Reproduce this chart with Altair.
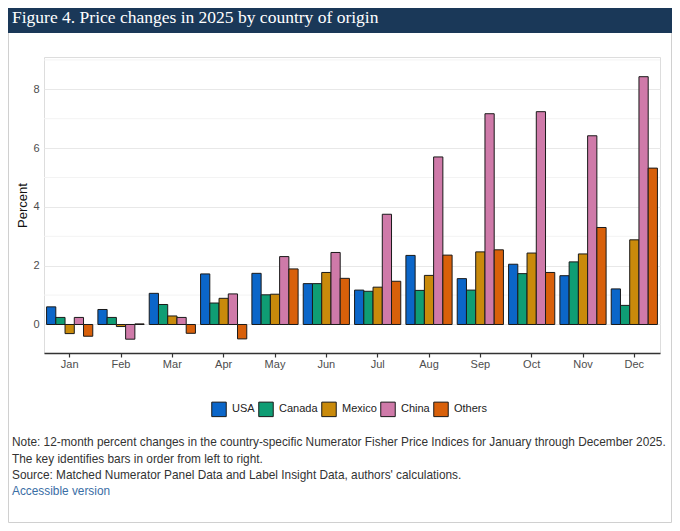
import altair as alt
import pandas as pd

months = ["Jan", "Feb", "Mar", "Apr", "May", "Jun", "Jul", "Aug", "Sep", "Oct", "Nov", "Dec"]
countries = ["USA", "Canada", "Mexico", "China", "Others"]
colors = ["#0b66c9", "#0f9d74", "#c98a0b", "#cf7aa9", "#d8600a"]

usa    = [0.60, 0.51, 1.06, 1.72, 1.74, 1.39, 1.17, 2.35, 1.56, 2.05, 1.66, 1.21]
canada = [0.24, 0.24, 0.68, 0.73, 1.01, 1.39, 1.13, 1.16, 1.17, 1.73, 2.13, 0.65]
mexico = [-0.31, -0.07, 0.29, 0.89, 1.03, 1.77, 1.27, 1.67, 2.47, 2.43, 2.40, 2.88]
china  = [0.24, -0.50, 0.24, 1.04, 2.31, 2.45, 3.75, 5.70, 7.17, 7.24, 6.42, 8.43]
others = [-0.40, 0.02, -0.30, -0.49, 1.89, 1.57, 1.47, 2.36, 2.54, 1.77, 3.30, 5.32]

major_ticks = [0, 2, 4, 6, 8]
minor_ticks = [1, 3, 5, 7, 9]

title_text = "Figure 4. Price changes in 2025 by country of origin"
note_lines = [
    "Note: 12-month percent changes in the country-specific Numerator Fisher Price Indices for January through December 2025.",
    "The key identifies bars in order from left to right.",
    "Source: Matched Numerator Panel Data and Label Insight Data, authors' calculations.",
]
link_text = "Accessible version"

series = {"USA": usa, "Canada": canada, "Mexico": mexico, "China": china, "Others": others}
rows = []
for c in countries:
    for m, v in zip(months, series[c]):
        rows.append({"month": m, "country": c, "value": v})
df = pd.DataFrame(rows)

FONT = "Liberation Sans"
ydom = [-0.97, 9.1]

minor = alt.Chart(pd.DataFrame({"v": minor_ticks})).mark_rule(color="#f3f3f3", strokeWidth=1).encode(
    y=alt.Y("v:Q", scale=alt.Scale(domain=ydom, nice=False, zero=False)),
    x=alt.value(0), x2=alt.value(616),
)

bars = alt.Chart(df).mark_bar(stroke="#1a1a1a", strokeWidth=1).encode(
    x=alt.X("month:N", sort=months, title=None,
            scale=alt.Scale(paddingInner=0.1, paddingOuter=0.05),
            axis=alt.Axis(labelAngle=0, domainColor="#333333", domainWidth=1.3,
                          tickColor="#333333", tickSize=4, tickWidth=1.2,
                          labelColor="#4d4d4d", labelFontSize=11, labelFont=FONT,
                          labelPadding=1, grid=False)),
    xOffset=alt.XOffset("country:N", sort=countries, scale=alt.Scale(paddingInner=0, paddingOuter=0)),
    y=alt.Y("value:Q", title="Percent",
            scale=alt.Scale(domain=ydom, nice=False, zero=False),
            axis=alt.Axis(values=major_ticks, domain=False, ticks=False,
                          gridColor="#e8e8e8", gridWidth=1,
                          labelColor="#4d4d4d", labelFontSize=11, labelFont=FONT,
                          labelPadding=5, titleFont=FONT, titleFontSize=13,
                          titleFontWeight="normal", titleColor="#111111", titlePadding=3)),
    y2=alt.datum(0),
    color=alt.Color("country:N", sort=countries,
                    scale=alt.Scale(domain=countries, range=colors),
                    legend=alt.Legend(title=None, orient="none", direction="horizontal",
                                      legendX=167, legendY=344,
                                      symbolType="square", symbolSize=210,
                                      symbolStrokeColor="#1a1a1a", symbolStrokeWidth=1,
                                      symbolOpacity=1,
                                      labelFont=FONT, labelFontSize=11, labelColor="#222222",
                                      labelOffset=5, columnPadding=1)),
)

one = pd.DataFrame({"a": [0]})

banner = alt.Chart(one).mark_rect(color="#1a3858").encode(
    x=alt.value(-36), x2=alt.value(628), y=alt.value(-49), y2=alt.value(-24)
)
title = alt.Chart(one).mark_text(
    text=title_text, font="Liberation Serif", fontSize=17.5, color="white",
    align="left", baseline="alphabetic"
).encode(x=alt.value(-32), y=alt.value(-34))

notes = alt.Chart(one).mark_text(
    text="\n".join(note_lines), lineBreak="\n", lineHeight=16.6,
    font=FONT, fontSize=11.85, color="#333333", align="left", baseline="alphabetic"
).encode(x=alt.value(-32), y=alt.value(389))

link = alt.Chart(one).mark_text(
    text=link_text, font=FONT, fontSize=11.85, color="#3a6ea5", align="left", baseline="alphabetic"
).encode(x=alt.value(-32), y=alt.value(438))

border = alt.Chart(one).mark_rect(fill=None, stroke="#d0d0d0", strokeWidth=1).encode(
    x=alt.value(-35.5), x2=alt.value(627.5), y=alt.value(-48.5), y2=alt.value(465.5)
)

chart = alt.layer(border, minor, bars, banner, title, notes, link).properties(
    width=616, height=296,
    autosize=alt.AutoSizeParams(type="none"),
    padding={"left": 36, "top": 49, "right": 12, "bottom": 170},
).configure_view(stroke=None).configure(background="white")

chart.save("out.html", embed_options={"renderer": "svg", "actions": False})
